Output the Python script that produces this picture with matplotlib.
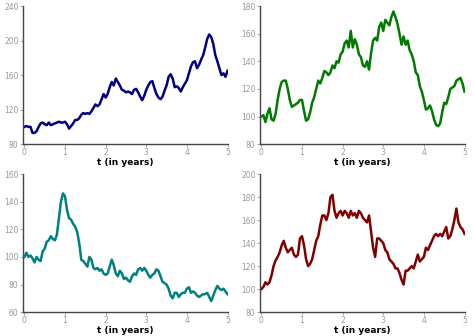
import numpy as np
import matplotlib
matplotlib.use("Agg")
import matplotlib.pyplot as plt

# time grid (years), one reading every 0.05 year
t = np.arange(101) * 0.05

path_blue = [100, 101, 100, 100, 93, 93, 95, 100, 104, 105,
             103, 102, 105, 102, 103, 104, 105, 106, 105, 105,
             106, 103, 98, 101, 104, 108, 108, 110, 114, 116,
             115, 116, 115, 118, 122, 126, 124, 126, 132, 138,
             134, 138, 146, 152, 148, 156, 152, 148, 143, 142,
             140, 141, 140, 138, 143, 144, 140, 135, 131, 136,
             143, 148, 152, 153, 145, 138, 134, 132, 135, 142,
             148, 158, 161, 156, 146, 147, 145, 141, 146, 150,
             154, 162, 170, 175, 176, 168, 172, 178, 183, 192,
             202, 207, 204, 196, 183, 176, 168, 160, 162, 158,
             165]

path_green = [100, 101, 96, 102, 106, 98, 97, 102, 112, 120,
              125, 126, 126, 120, 112, 107, 108, 109, 110, 112,
              112, 104, 97, 98, 103, 110, 114, 120, 126, 124,
              128, 133, 132, 130, 132, 137, 135, 140, 139, 145,
              147, 153, 155, 150, 162, 150, 156, 152, 145, 143,
              137, 136, 140, 134, 146, 155, 157, 155, 165, 168,
              162, 170, 168, 166, 172, 176, 172, 167, 160, 152,
              158, 152, 155, 148, 145, 140, 132, 130, 122, 118,
              112, 105, 106, 108, 104, 98, 94, 93, 95, 103,
              110, 109, 114, 120, 121, 122, 126, 127, 128, 124,
              118]

path_teal = [100, 103, 100, 101, 99, 96, 100, 98, 97, 104,
             106, 111, 112, 115, 113, 112, 116, 128, 140, 146,
             144, 134, 128, 127, 124, 122, 118, 110, 98, 97,
             95, 93, 100, 98, 92, 91, 92, 90, 91, 88,
             87, 88, 93, 98, 94, 88, 86, 90, 88, 84,
             85, 83, 82, 86, 88, 87, 91, 92, 90, 92,
             90, 87, 85, 87, 88, 91, 90, 86, 82, 81,
             80, 77, 72, 70, 74, 74, 71, 73, 74, 74,
             77, 78, 74, 75, 74, 72, 71, 72, 73, 73,
             74, 71, 68, 72, 76, 79, 77, 76, 77, 75,
             73]

path_red = [100, 102, 106, 104, 106, 112, 120, 125, 128, 132,
            138, 142, 136, 132, 134, 136, 130, 128, 130, 144,
            146, 138, 126, 120, 122, 126, 134, 142, 146, 156,
            164, 164, 160, 166, 180, 182, 168, 162, 166, 168,
            164, 168, 166, 162, 168, 164, 166, 162, 168, 166,
            162, 160, 158, 164, 150, 136, 128, 144, 144, 142,
            140, 134, 132, 126, 124, 122, 118, 118, 114, 108,
            104, 116, 116, 118, 120, 118, 124, 130, 124, 126,
            128, 136, 134, 138, 142, 146, 148, 146, 148, 146,
            150, 154, 144, 146, 152, 160, 170, 158, 154, 152,
            148]

panels = [
    (path_blue, "#000080", (80, 240), [80, 120, 160, 200, 240]),
    (path_green, "#007a00", (80, 180), [80, 100, 120, 140, 160, 180]),
    (path_teal, "#008080", (60, 160), [60, 80, 100, 120, 140, 160]),
    (path_red, "#800000", (80, 200), [80, 100, 120, 140, 160, 180, 200]),
]

# axes boxes in figure fractions
boxes = [
    [0.048, 0.571, 0.432, 0.411],
    [0.548, 0.571, 0.432, 0.411],
    [0.048, 0.071, 0.432, 0.411],
    [0.548, 0.071, 0.432, 0.411],
]

fig = plt.figure(figsize=(4.74, 3.36), dpi=100)

for (path, color, ylim, yticks), box in zip(panels, boxes):
    ax = fig.add_axes(box)
    ax.plot(t, path, color=color, lw=1.8)
    ax.set_xlim(-0.04, 5.0)
    ax.set_ylim(*ylim)
    ax.set_xticks([0, 1, 2, 3, 4, 5])
    ax.set_yticks(yticks)
    for side in ["top", "right"]:
        ax.spines[side].set_visible(False)
    for side in ["left", "bottom"]:
        ax.spines[side].set_color("#444444")
        ax.spines[side].set_linewidth(1.0)
    ax.tick_params(colors="#999999", labelsize=5.5, length=2, width=0.6, pad=1)
    ax.set_xlabel("t (in years)", fontsize=6.5, fontweight="bold", labelpad=0.5)

fig.savefig("out.png", dpi=100)
